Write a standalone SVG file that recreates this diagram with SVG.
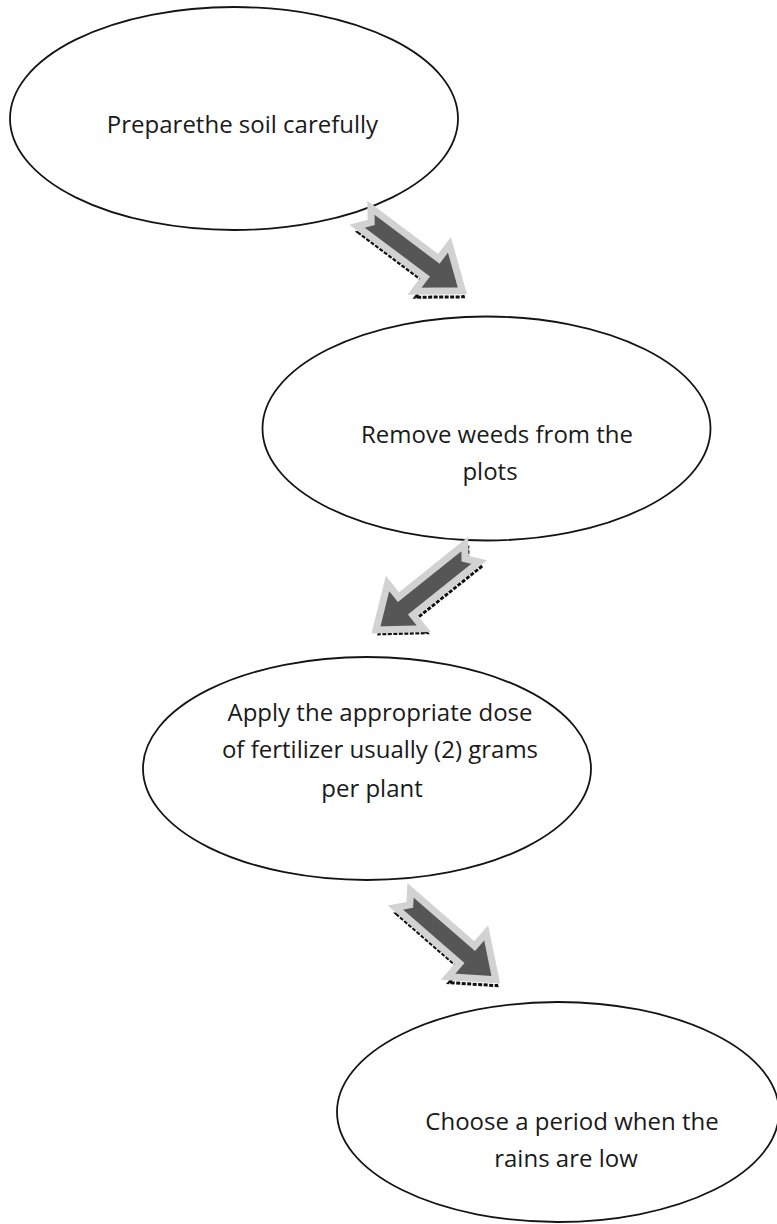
<svg xmlns="http://www.w3.org/2000/svg" xmlns:xlink="http://www.w3.org/1999/xlink" width="777" height="1224" viewBox="0 0 777 1224">
  <style>
    .node { fill: #ffffff; stroke: #141414; stroke-width: 1.8; }
    .label { font-family: "Open Sans", "Liberation Sans", sans-serif; font-size: 24px; fill: #1a1a1a; text-anchor: middle; }
    .arrow-shadow { fill: none; stroke: #111111; stroke-width: 3; stroke-dasharray: 4 1.5; }
    .arrow-body { fill: #565656; stroke: #d2d2d2; stroke-width: 7; stroke-linejoin: miter; }
  </style>
  <defs>
    <path id="notched-arrow" d="M0,-11.5 L85,-11.5 L85,-29 L123,0 L85,29 L85,11.5 L0,11.5 L9,0 Z"/>
  </defs>
  <rect x="0" y="0" width="777" height="1224" fill="#ffffff"/>

  <g id="node-1">
    <ellipse class="node" cx="234" cy="118.5" rx="224" ry="111.5"/>
    <text class="label" x="242.5" y="133">Preparethe soil carefully</text>
  </g>
  <g id="node-2">
    <ellipse class="node" cx="486.5" cy="428.5" rx="224" ry="112"/>
    <text class="label" x="497" y="443">Remove weeds from the</text>
    <text class="label" x="490" y="480">plots</text>
  </g>
  <g id="node-3">
    <ellipse class="node" cx="367" cy="768.5" rx="224" ry="111.5"/>
    <text class="label" x="380" y="721">Apply the appropriate dose</text>
    <text class="label" x="380" y="758">of fertilizer usually (2) grams</text>
    <text class="label" x="372" y="797">per plant</text>
  </g>
  <g id="node-4">
    <ellipse class="node" cx="558" cy="1112" rx="221" ry="110"/>
    <text class="label" x="572" y="1130">Choose a period when the</text>
    <text class="label" x="566" y="1167">rains are low</text>
  </g>

  <g id="connectors">
    <g id="arrow-1">
      <use xlink:href="#notched-arrow" class="arrow-shadow" transform="translate(365,223) rotate(36.9)"/>
      <use xlink:href="#notched-arrow" class="arrow-body" transform="translate(364,217) rotate(36.9)"/>
    </g>
    <g id="arrow-2">
      <use xlink:href="#notched-arrow" class="arrow-shadow" transform="translate(475,557) rotate(141.3)"/>
      <use xlink:href="#notched-arrow" class="arrow-body" transform="translate(472,553) rotate(141.3)"/>
    </g>
    <g id="arrow-3">
      <use xlink:href="#notched-arrow" class="arrow-shadow" transform="translate(404,905) rotate(41)"/>
      <use xlink:href="#notched-arrow" class="arrow-body" transform="translate(403,899) rotate(41)"/>
    </g>
  </g>
</svg>
